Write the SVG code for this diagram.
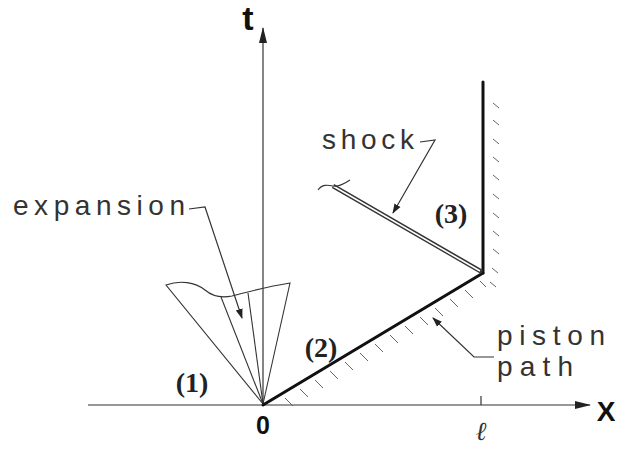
<svg xmlns="http://www.w3.org/2000/svg" width="619" height="450" viewBox="0 0 619 450">
<defs>
<marker id="arr" markerWidth="10" markerHeight="10" refX="9" refY="5" orient="auto" markerUnits="userSpaceOnUse">
<path d="M0,1.5 L10,5 L0,8.5 Z" fill="#222"/>
</marker>
<marker id="axarr" markerWidth="16" markerHeight="10" refX="15" refY="5" orient="auto" markerUnits="userSpaceOnUse">
<path d="M0,1 L16,5 L0,9 Z" fill="#222"/>
</marker>
</defs>
<style>
.ax{stroke:#333;stroke-width:1.2;fill:none}
.thin{stroke:#333;stroke-width:1.1;fill:none}
.thick{stroke:#111;stroke-width:3;fill:none;stroke-linecap:round}
.hatch{stroke:#666;stroke-width:1;fill:none}
.lbl{font-family:"Liberation Sans",Arial,sans-serif;font-size:28px;fill:#333}
.reg{font-family:"Liberation Serif","Times New Roman",serif;font-weight:bold;font-size:28px;fill:#222}
.lead{stroke:#333;stroke-width:1.2;fill:none}
</style>
<rect width="619" height="450" fill="#fff"/>
<g id="axes">
<line class="ax" x1="88" y1="405" x2="590" y2="405" marker-end="url(#axarr)"/>
<line class="ax" x1="263" y1="405" x2="263" y2="28" marker-end="url(#axarr)"/>
<line class="ax" x1="481" y1="405" x2="481" y2="396"/>
<text x="248" y="30" style="font-family:'Liberation Sans',Arial,sans-serif;font-weight:bold;font-size:34px" text-anchor="middle" fill="#111">t</text>
<text x="606" y="421" style="font-family:'Liberation Sans',Arial,sans-serif;font-weight:bold;font-size:28px" text-anchor="middle" fill="#111">X</text>
<text x="263" y="434" style="font-family:'Liberation Sans',Arial,sans-serif;font-weight:bold;font-size:25px" text-anchor="middle" fill="#111">0</text>
<text x="481" y="440" style="font-family:'Liberation Serif','Times New Roman',serif;font-style:italic;font-size:26px" text-anchor="middle" fill="#333">ℓ</text>
</g>
<g id="expansion-fan">
<path class="thin" d="M263,404 L166,285 C180,280 195,282 205,290 C212,296 222,298 232,296 C248,292 265,287 290,283 L263,404"/>
<line class="thin" x1="263" y1="404" x2="221" y2="297"/>
<line class="thin" x1="263" y1="404" x2="248" y2="293"/>
</g>
<g id="piston">
<line class="thick" x1="263" y1="405" x2="483" y2="273"/>
<line class="thick" x1="483" y1="273" x2="483" y2="82"/>
<g class="hatch">
<line x1="285" y1="398" x2="293" y2="406"/>
<line x1="300" y1="389" x2="308" y2="397"/>
<line x1="315" y1="380" x2="323" y2="388"/>
<line x1="330" y1="371" x2="338" y2="379"/>
<line x1="345" y1="362" x2="353" y2="370"/>
<line x1="360" y1="353" x2="368" y2="361"/>
<line x1="375" y1="344" x2="383" y2="352"/>
<line x1="390" y1="335" x2="398" y2="343"/>
<line x1="405" y1="326" x2="413" y2="334"/>
<line x1="420" y1="317" x2="428" y2="325"/>
<line x1="435" y1="308" x2="443" y2="316"/>
<line x1="450" y1="299" x2="458" y2="307"/>
<line x1="465" y1="290" x2="473" y2="298"/>
<line x1="480" y1="281" x2="486" y2="287"/>
<line x1="493" y1="103" x2="499" y2="108"/>
<line x1="493" y1="120" x2="499" y2="125"/>
<line x1="493" y1="139" x2="499" y2="144"/>
<line x1="493" y1="157" x2="499" y2="162"/>
<line x1="493" y1="175" x2="499" y2="180"/>
<line x1="493" y1="194" x2="499" y2="199"/>
<line x1="493" y1="213" x2="499" y2="218"/>
<line x1="493" y1="231" x2="499" y2="236"/>
<line x1="493" y1="249" x2="499" y2="254"/>
<line x1="492" y1="268" x2="498" y2="273"/>
<line x1="490" y1="282" x2="496" y2="287"/>
</g>
</g>
<g id="shock">
<line stroke="#333" stroke-width="4.5" x1="482" y1="272" x2="333" y2="186"/>
<line stroke="#fff" stroke-width="1.6" x1="480" y1="271" x2="333" y2="186"/>
<path class="thin" d="M318,190 C322,184 328,185 333,186 C338,187 344,184 350,180" stroke-width="1.6"/>
</g>
<g id="labels">
<text class="lbl" x="13" y="215" textLength="172" lengthAdjust="spacing">expansion</text>
<path class="lead" d="M189,209 L205,207 L242,318" marker-end="url(#arr)"/>
<text class="lbl" x="322" y="149" textLength="92" lengthAdjust="spacing">shock</text>
<path class="lead" d="M420,142 L435,140 L393,213" marker-end="url(#arr)"/>
<text class="lbl" x="497" y="345" textLength="108" lengthAdjust="spacing">piston</text>
<text class="lbl" x="497" y="376" textLength="76" lengthAdjust="spacing">path</text>
<path class="lead" d="M494,357 L474,357 L433,318" marker-end="url(#arr)"/>
<text class="reg" x="192" y="392" text-anchor="middle">(1)</text>
<text class="reg" x="321" y="357" text-anchor="middle">(2)</text>
<text class="reg" x="451" y="223" text-anchor="middle">(3)</text>
</g>
</svg>
